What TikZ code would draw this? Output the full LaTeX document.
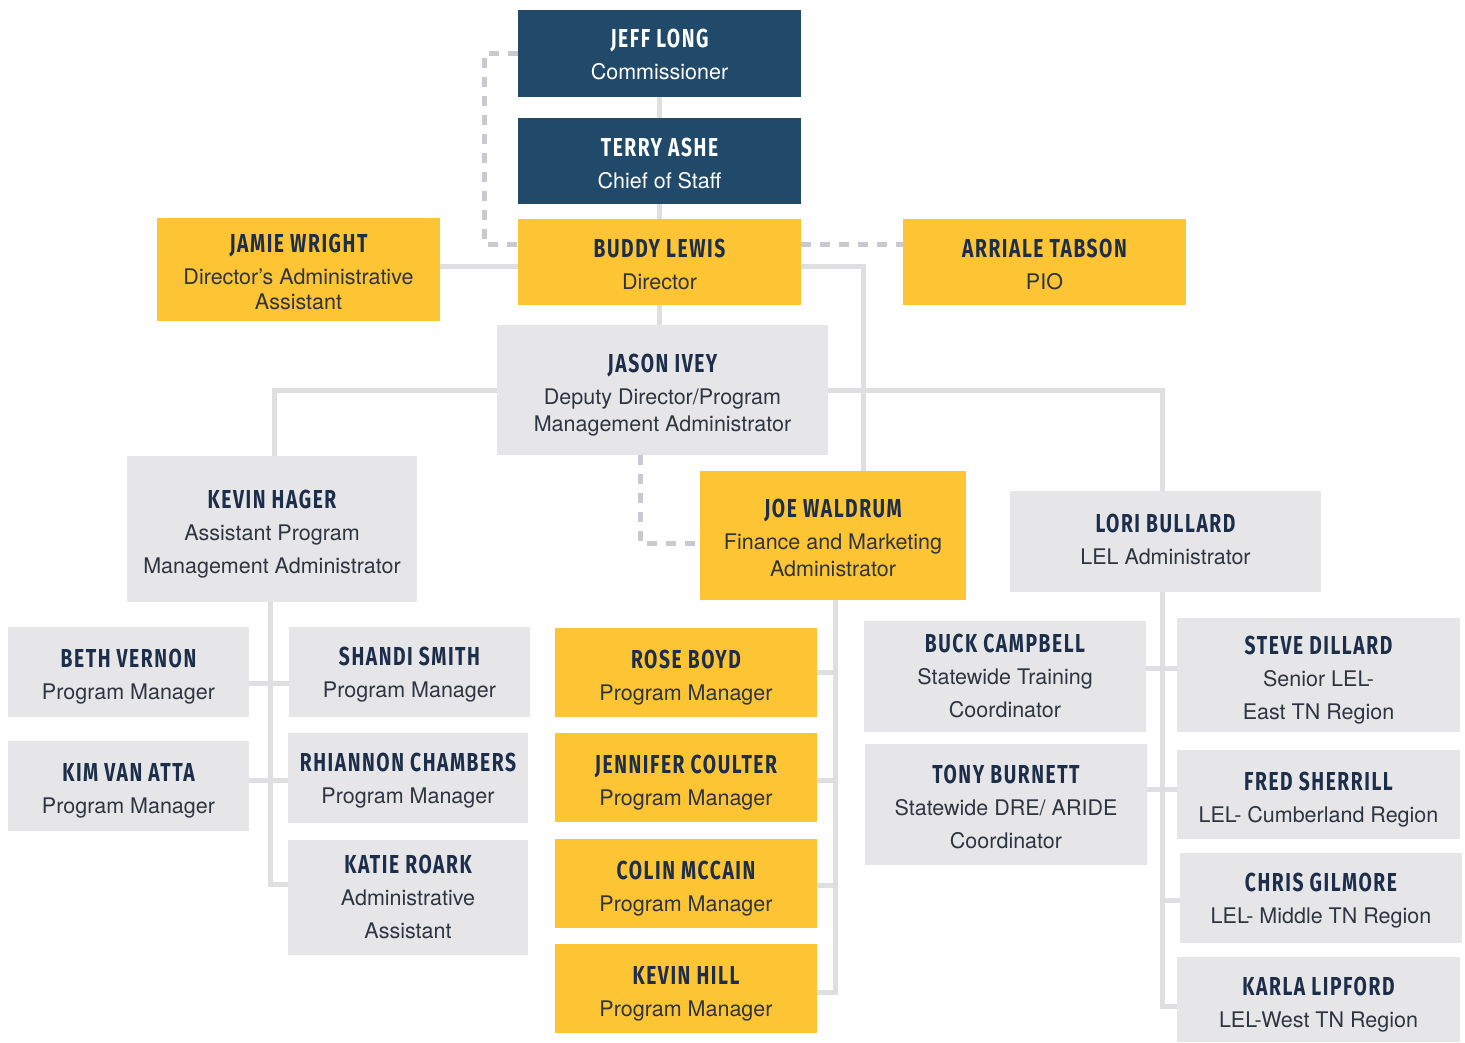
\documentclass[tikz,border=0pt]{standalone}
\usepackage{fontspec}
\setmainfont{TeX Gyre Heros}
\newfontfamily\namefont{Fira Sans}[FakeStretch=0.74,LetterSpace=6]
\usetikzlibrary{calc,backgrounds}
\definecolor{navy}{HTML}{214A6A}
\definecolor{gold}{HTML}{FDC433}
\definecolor{boxgray}{HTML}{E6E6E8}
\definecolor{conngray}{HTML}{DFDFE1}
\definecolor{dashgray}{HTML}{C9C9D2}
\definecolor{nametext}{HTML}{1C2E4A}
\definecolor{subtext}{HTML}{2E3440}
\colorlet{namecolor}{nametext}
\def\nmh{31.5pt}
\newcommand\nm[1]{{\rule{0pt}{\nmh}\namefont\bfseries\fontsize{26}{30}\selectfont\color{namecolor}#1}}
\tikzset{
  box/.style={rectangle, inner sep=0pt, align=center, text=subtext,
    font=\fontsize{21.5}{26}\selectfont,
    execute at end node={\rule[-8pt]{0pt}{8pt}}},
  navybox/.style={box, fill=navy, text=white, execute at begin node={\colorlet{namecolor}{white}}},
  goldbox/.style={box, fill=gold},
  graybox/.style={box, fill=boxgray},
  tup/.style={execute at begin node={\def\nmh{#1}}},
  conn/.style={draw=conngray, line width=5pt},
  dashconn/.style={draw=dashgray, line width=5pt, dash pattern=on 10pt off 9pt},
}
\begin{document}
\begin{tikzpicture}[x=1pt,y=-1pt]
\useasboundingbox (0,0) rectangle (1465,1042);
\coordinate (dl) at (484,53);
\coordinate (jx) at (863,0);
\coordinate (kx) at (274,0);
\coordinate (lx) at (1162,0);
\coordinate (jd) at (640,543);
\coordinate (hx) at (270,0);
\coordinate (rx) at (835,0);

% nodes
\node[navybox, tup=28pt, minimum width=283, minimum height=87] (jeff) at (659.5,53.5) {\nm{JEFF LONG}\\[6pt]Commissioner};
\node[navybox, tup=30pt, minimum width=283, minimum height=86] (terry) at (659.5,161) {\nm{TERRY ASHE}\\[6pt]Chief of Staff};
\node[goldbox, minimum width=283, minimum height=86] (buddy) at (659.5,262) {\nm{BUDDY LEWIS}\\[6pt]Director};
\node[goldbox, minimum width=283, minimum height=103] (jamie) at (298.5,269.5) {\nm{JAMIE WRIGHT}\\[6pt]Director’s Administrative\\[-1pt]Assistant};
\node[goldbox, minimum width=283, minimum height=86] (arriale) at (1044.5,262) {\nm{ARRIALE TABSON}\\[6pt]PIO};
\node[graybox, minimum width=331, minimum height=130] (jason) at (662.5,390) {\nm{JASON IVEY}\\[6pt]Deputy Director/Program\\[1pt]Management Administrator};
\node[graybox, minimum width=290, minimum height=146] (kevinh) at (272,529) {\nm{KEVIN HAGER}\\[6pt]Assistant Program\\[7pt]Management Administrator};
\node[goldbox, minimum width=266, minimum height=129] (joe) at (833,535.5) {\nm{JOE WALDRUM}\\[6pt]Finance and Marketing\\[1pt]Administrator};
\node[graybox, tup=22pt, minimum width=311, minimum height=101] (lori) at (1165.5,541.5) {\nm{LORI BULLARD}\\[6pt]LEL Administrator};

\node[graybox, minimum width=241, minimum height=90] (beth) at (128.5,672) {\nm{BETH VERNON}\\[6pt]Program Manager};
\node[graybox, minimum width=241, minimum height=90] (kim) at (128.5,786) {\nm{KIM VAN ATTA}\\[6pt]Program Manager};
\node[graybox, tup=27.5pt, minimum width=241, minimum height=90] (shandi) at (409.5,672) {\nm{SHANDI SMITH}\\[6pt]Program Manager};
\node[graybox, tup=27.5pt, minimum width=240, minimum height=90] (rhiannon) at (408,778) {\nm{RHIANNON CHAMBERS}\\[6pt]Program Manager};
\node[graybox, tup=24pt, minimum width=240, minimum height=115] (katie) at (408,897.5) {\nm{KATIE ROARK}\\[6pt]Administrative\\[7pt]Assistant};

\node[goldbox, minimum width=262, minimum height=89] (rose) at (686,672.5) {\nm{ROSE BOYD}\\[6pt]Program Manager};
\node[goldbox, minimum width=262, minimum height=89] (jennifer) at (686,777.5) {\nm{JENNIFER COULTER}\\[6pt]Program Manager};
\node[goldbox, minimum width=262, minimum height=89] (colin) at (686,883.5) {\nm{COLIN MCCAIN}\\[6pt]Program Manager};
\node[goldbox, minimum width=262, minimum height=89] (kevinhill) at (686,988.5) {\nm{KEVIN HILL}\\[6pt]Program Manager};

\node[graybox, tup=24pt, minimum width=282, minimum height=111] (buck) at (1005,676.5) {\nm{BUCK CAMPBELL}\\[6pt]Statewide Training\\[7pt]Coordinator};
\node[graybox, tup=30pt, minimum width=282, minimum height=121] (tony) at (1006,804.5) {\nm{TONY BURNETT}\\[6pt]Statewide DRE/ ARIDE\\[7pt]Coordinator};
\node[graybox, minimum width=283, minimum height=114] (steve) at (1318.5,675) {\nm{STEVE DILLARD}\\[6pt]Senior LEL-\\[7pt]East TN Region};
\node[graybox, minimum width=283, minimum height=89] (fred) at (1318.5,794.5) {\nm{FRED SHERRILL}\\[6pt]LEL- Cumberland Region};
\node[graybox, tup=27.5pt, minimum width=282, minimum height=90] (chris) at (1321,898) {\nm{CHRIS GILMORE}\\[6pt]LEL- Middle TN Region};
\node[graybox, minimum width=283, minimum height=85] (karla) at (1318.5,999.5) {\nm{KARLA LIPFORD}\\[6pt]LEL-West TN Region};

\begin{scope}[on background layer]
% solid connectors
\draw[conn] (jeff.south) -- (terry.north);
\draw[conn] (terry.south) -- (buddy.north);
\draw[conn] (buddy.south) -- (buddy.south |- jason.north);
\draw[conn] ([yshift=-4pt]buddy.west) -- ([yshift=-4pt]buddy.west -| jamie.east);
\draw[conn] ([yshift=-4pt]buddy.east) -| (jx |- joe.north);
\draw[conn] (jason.west) -| (kx |- kevinh.north);
\draw[conn] (jason.east) -| (lx |- lori.north);
\draw[conn] (kevinh.south -| hx) |- ([yshift=13.5pt]katie.west);
\draw[conn] ([yshift=-11pt]beth.east) -- ([yshift=-11pt]beth.east -| shandi.west);
\draw[conn] ([yshift=6pt]kim.east) -- ([yshift=6pt]kim.east -| rhiannon.west);
\draw[conn] (joe.south -| rx) |- ([yshift=-3.5pt]kevinhill.east);
\draw[conn] (rose.east) -- (rose.east -| rx);
\draw[conn] ([yshift=-2.5pt]jennifer.east) -- ([yshift=-2.5pt]jennifer.east -| rx);
\draw[conn] ([yshift=-1.5pt]colin.east) -- ([yshift=-1.5pt]colin.east -| rx);
\draw[conn] (lori.south -| lx) |- ([yshift=-6.5pt]karla.west);
\draw[conn] ([yshift=8.5pt]buck.east) -- ([yshift=8.5pt]buck.east -| steve.west);
\draw[conn] ([yshift=15.5pt]tony.east) -- ([yshift=15.5pt]tony.east -| fred.west);
\draw[conn] ([yshift=-2pt]chris.west) -- ([yshift=-2pt]chris.west -| lx);
% dashed connectors
\draw[dashconn] (jeff.west) -- (jeff.west -| dl) |- ([yshift=18pt]buddy.west);
\draw[dashconn] ([yshift=18pt]buddy.east) -- ([yshift=18pt]buddy.east -| arriale.west);
\draw[dashconn] (jason.south -| jd) |- ([yshift=-7.5pt]joe.west);
\end{scope}
\end{tikzpicture}
\end{document}
